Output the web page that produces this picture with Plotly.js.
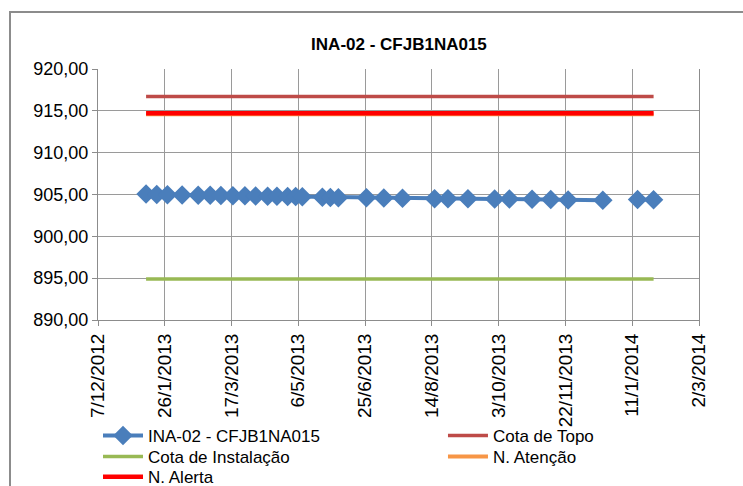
<!DOCTYPE html>
<html>
<head>
<meta charset="utf-8">
<script src="https://cdn.plot.ly/plotly-3.0.1.min.js"></script>
<style>
  html, body { margin: 0; padding: 0; background: #fff; }
  #wrap { position: relative; width: 743px; height: 486px; overflow: hidden; }
  #chart { position: absolute; left: 0; top: 0; width: 743px; height: 486px; }
  #frame { position: absolute; left: 9px; top: 11px; width: 760px; height: 500px;
           border: 2px solid #8c8c8c; pointer-events: none; box-sizing: border-box; }
</style>
</head>
<body>
<div id="wrap">
  <div id="chart"></div>
  <div id="frame"></div>
</div>
<script>
// Data
const readingDates = [
  "2013-01-12", "2013-01-20", "2013-01-28", "2013-02-08", "2013-02-20",
  "2013-03-01", "2013-03-09", "2013-03-18", "2013-03-27", "2013-04-04",
  "2013-04-13", "2013-04-20", "2013-04-28", "2013-05-04", "2013-05-09",
  "2013-05-24", "2013-05-30", "2013-06-05", "2013-06-26", "2013-07-09",
  "2013-07-23", "2013-08-16", "2013-08-26", "2013-09-10", "2013-09-30",
  "2013-10-11", "2013-10-28", "2013-11-11", "2013-11-24", "2013-12-20",
  "2014-01-02",
  "2014-01-15", "2014-01-27"
];
const readingValues = [
  905.05, 905.00, 904.98, 904.95, 904.90,
  904.90, 904.88, 904.85, 904.85, 904.82,
  904.80, 904.80, 904.75, 904.76, 904.72,
  904.66, 904.65, 904.62, 904.60, 904.58,
  904.55, 904.50, 904.50, 904.48, 904.45,
  904.45, 904.42, 904.40, 904.35, 904.30,
  null,
  904.40, 904.38
];
const refDates = ["2013-01-12", "2014-01-27"];
const cotaTopo = [916.7, 916.7];
const cotaInstalacao = [894.9, 894.9];
const nAtencao = [914.6, 914.6];
const nAlerta = [914.7, 914.7];

const seriesName = "INA-02 - CFJB1NA015";
const titleText = "INA-02 - CFJB1NA015";

const sans = "'Liberation Sans', Arial, sans-serif";

const traces = [
  {
    x: readingDates, y: readingValues, name: seriesName, legend: "legend",
    type: "scatter", mode: "lines+markers", connectgaps: false,
    line: { color: "#4A7EBB", width: 4 },
    marker: { symbol: "diamond", size: 15, color: "#4A7EBB" }
  },
  {
    x: refDates, y: cotaTopo, name: "Cota de Topo", legend: "legend2",
    type: "scatter", mode: "lines",
    line: { color: "#BE4B48", width: 3.5 }
  },
  {
    x: refDates, y: cotaInstalacao, name: "Cota de Instalação", legend: "legend3",
    type: "scatter", mode: "lines",
    line: { color: "#98B954", width: 3.5 }
  },
  {
    x: refDates, y: nAtencao, name: "N. Atenção", legend: "legend4",
    type: "scatter", mode: "lines",
    line: { color: "#F79646", width: 4 }
  },
  {
    x: refDates, y: nAlerta, name: "N. Alerta", legend: "legend5",
    type: "scatter", mode: "lines",
    line: { color: "#FF0000", width: 4.5 }
  }
];

function leg(xp, yp) {
  return {
    x: xp, xanchor: "left", y: yp, yanchor: "middle",
    bgcolor: "rgba(0,0,0,0)", borderwidth: 0,
    itemwidth: 40,
    font: { family: sans, size: 17, color: "#000" }
  };
}

const layout = {
  width: 743, height: 486,
  margin: { l: 98, r: 44, t: 69, b: 166, autoexpand: false },
  paper_bgcolor: "#ffffff", plot_bgcolor: "#ffffff",
  separators: ", ",
  showlegend: true,
  title: {
    text: "<b>" + titleText + "</b>",
    x: 0.537, xanchor: "center", y: 0.91, yanchor: "middle",
    font: { family: sans, size: 17, color: "#000" }
  },
  xaxis: {
    type: "date", automargin: false,
    range: ["2012-12-07", "2014-03-02"],
    tick0: "2012-12-07",
    dtick: 50 * 86400000,
    tickformat: "%-d/%-m/%Y",
    tickangle: -90,
    showgrid: true, gridcolor: "#9a9a9a", gridwidth: 1,
    showline: true, linecolor: "#8c8c8c", linewidth: 1,
    ticks: "outside", ticklen: 5, tickcolor: "#8c8c8c",
    zeroline: false,
    tickfont: { family: "Arial, 'Liberation Sans', sans-serif", size: 19, color: "#000" }
  },
  yaxis: {
    range: [890, 920], automargin: false,
    tick0: 890, dtick: 5,
    tickformat: ".2f",
    showgrid: true, gridcolor: "#9a9a9a", gridwidth: 1,
    showline: true, linecolor: "#8c8c8c", linewidth: 1,
    mirror: true,
    ticks: "outside", ticklen: 5, tickcolor: "#8c8c8c",
    zeroline: false,
    tickfont: { family: sans, size: 18, color: "#000" }
  },
  legend:  leg(0.0,   -0.462),
  legend2: leg(0.574, -0.462),
  legend3: leg(0.0,   -0.546),
  legend4: leg(0.574, -0.546),
  legend5: leg(0.0,   -0.626)
};

Plotly.newPlot("chart", traces, layout, { displayModeBar: false, staticPlot: true });
</script>
</body>
</html>
